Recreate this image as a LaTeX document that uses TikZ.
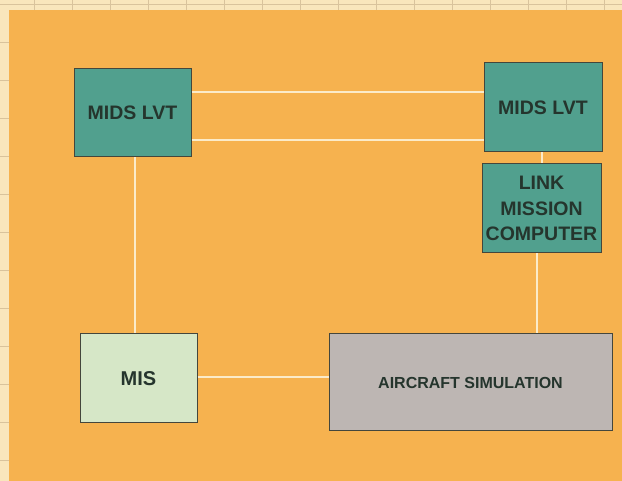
\documentclass[tikz,border=0pt]{standalone}
\usepackage{fontspec}
\setmainfont{Liberation Sans}
\definecolor{paper}{HTML}{F9E6BC}
\definecolor{gridc}{HTML}{D9C39C}
\definecolor{orangebg}{HTML}{F6B24F}
\definecolor{tealbox}{HTML}{51A08E}
\definecolor{misbox}{HTML}{D6E7C7}
\definecolor{simbox}{HTML}{BDB6B3}
\definecolor{boxline}{HTML}{44463C}
\definecolor{txt}{HTML}{25352D}
\definecolor{wire}{HTML}{FBEBC9}
\begin{document}
\begin{tikzpicture}[x=1pt,y=-1pt,
  blockbox/.style={draw=boxline,line width=1pt,inner sep=0pt,align=center,
    text=txt,font=\bfseries\fontsize{19.5}{25.5}\selectfont},
  wireline/.style={draw=wire,line width=2.2pt}]
\useasboundingbox (0,0) rectangle (622,481);
\fill[paper] (0,0) rectangle (622,481);
\foreach \gx in {34,72,...,622} \draw[gridc,line width=0.8pt] (\gx,0) -- (\gx,481);
\foreach \gy in {4,42,...,481} \draw[gridc,line width=0.8pt] (0,\gy) -- (622,\gy);
\fill[orangebg] (9,10) rectangle (622,481);
% blocks
\node[blockbox,fill=tealbox,minimum width=117pt,minimum height=88pt] (m1) at (132.5,113) {MIDS LVT};
\node[blockbox,fill=tealbox,minimum width=118pt,minimum height=89pt] (m2) at (543,107.5) {MIDS LVT};
\node[blockbox,fill=tealbox,minimum width=119pt,minimum height=89pt] (lmc) at (541.5,208.5) {LINK\\MISSION\\COMPUTER};
\node[blockbox,fill=misbox,minimum width=117pt,minimum height=89pt,font=\bfseries\fontsize{20}{24}\selectfont] (mis) at (138.5,378.5) {MIS};
\node[blockbox,fill=simbox,minimum width=283pt,minimum height=97pt,font=\bfseries\fontsize{16}{20}\selectfont] (sim) at (470.5,382.5) {AIRCRAFT SIMULATION};
% guide coordinates
\coordinate (ya) at (0,92);
\coordinate (yb) at (0,140);
\coordinate (xl) at (135,0);
\coordinate (xr) at (542,0);
\coordinate (xs) at (537,0);
\coordinate (ym) at (0,377);
% connectors
\draw[wireline] (m1.east |- ya) -- (m2.west |- ya);
\draw[wireline] (m1.east |- yb) -- (m2.west |- yb);
\draw[wireline] (xl |- m1.south) -- (xl |- mis.north);
\draw[wireline] (xr |- m2.south) -- (xr |- lmc.north);
\draw[wireline] (xs |- lmc.south) -- (xs |- sim.north);
\draw[wireline] (mis.east |- ym) -- (sim.west |- ym);
\end{tikzpicture}
\end{document}
